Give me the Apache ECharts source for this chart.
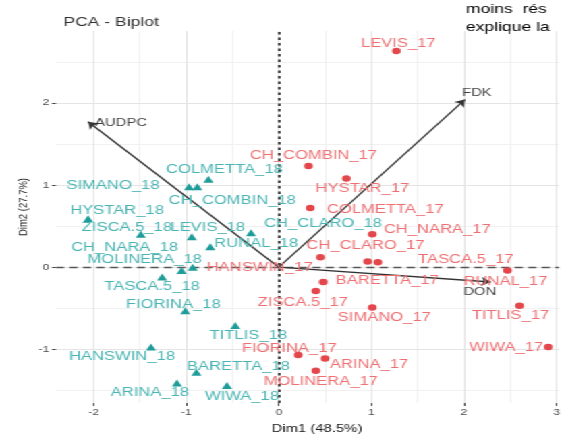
<!DOCTYPE html>
<html><head><meta charset="utf-8">
<script src="https://cdn.jsdelivr.net/npm/echarts@6/dist/echarts.min.js"></script>
<style>
html,body{margin:0;padding:0;background:#fff;overflow:hidden;}
#wrap{width:564px;height:439px;overflow:hidden;position:relative;}
#c{width:418px;height:439px;transform:scaleX(1.349282);transform-origin:0 0;}
</style></head>
<body><div id="wrap"><div id="c"></div></div>
<script>
const SX = 564 / 418;
const genotypes = ['LEVIS','CH_COMBIN','HYSTAR','COLMETTA','CH_NARA','CH_CLARO','TASCA.5','HANSWIN','BARETTA','RUNAL','ZISCA.5','SIMANO','TITLIS','WIWA','FIORINA','ARINA','MOLINERA'];
const dim1_17 = [1.27, 0.32, 0.73, 0.34, 1.01, 0.45, 1.07, 0.96, 0.48, 2.47, 0.40, 1.01, 2.60, 2.91, 0.21, 0.50, 0.40];
const dim2_17 = [2.63, 1.23, 1.08, 0.72, 0.40, 0.12, 0.06, 0.07, -0.18, -0.04, -0.29, -0.49, -0.47, -0.97, -1.07, -1.11, -1.26];
const dim1_18 = [-0.94, -0.88, -2.06, -0.76, -1.05, -0.30, -1.26, -1.38, -0.89, -0.74, -1.49, -0.97, -0.47, -0.56, -1.01, -1.10, -0.93];
const dim2_18 = [0.37, 0.98, 0.59, 1.07, -0.04, 0.42, -0.12, -0.97, -1.28, 0.25, 0.40, 0.98, -0.71, -1.44, -0.53, -1.41, 0.00];
const variables = ['AUDPC','FDK','DON'];
const varDim1 = [-2.06, 2.01, 2.29];
const varDim2 = [1.77, 2.04, -0.18];
const xTicks = [-2, -1, 0, 1, 2, 3];
const yTicks = [-1, 0, 1, 2];

// label offsets (screen px, in the stretched picture)
const off17 = [[2,-8],[5,-12],[16,9],[75,1],[65,-6],[45,-13],[88,-4],[-108,5],[64,-2],[-2,10],[-13,11],[12,9],[-9,9],[-42,0],[-9,-8],[44,5],[5,10]];
const off18 = [[16,-10],[35,13],[29,-9],[16,-11],[-57,-24],[72,-10],[-10,9],[-29,9],[42,-7],[46,-4],[-14,-8],[-76,-2],[13,9],[15,10],[-12,-7],[-27,9],[-48,-9]];
const offVar = [[33,0],[12,-8],[-11,9]];

const XMIN = (56 - 281) / 93.5, XMAX = (564 - 281) / 93.5;
const YMIN = (268 - 406) / 83.5, YMAX = (268 - 28) / 83.5;

function mids(a){ const r=[]; for(let i=0;i<a.length;i++){ r.push(a[i]-0.5); } r.push(a[a.length-1]+0.5); return r; }
const minorX = mids(xTicks).filter(v=>v>XMIN && v<XMAX);
const minorY = mids(yTicks).filter(v=>v>YMIN && v<YMAX);

const gridMajor = [], gridMinor = [];
xTicks.forEach(v=>gridMajor.push({coords:[[v,YMIN],[v,YMAX]]}));
yTicks.forEach(v=>gridMajor.push({coords:[[XMIN,v],[XMAX,v]]}));
minorX.forEach(v=>gridMinor.push({coords:[[v,YMIN],[v,YMAX]]}));
minorY.forEach(v=>gridMinor.push({coords:[[XMIN,v],[XMAX,v]]}));

const FONT = 'Arial, "Liberation Sans", sans-serif';
function pts(xs, ys, names, suffix, offs){
  return xs.map((x,i)=>({name:names[i]+suffix, value:[x, ys[i]], label:{offset:[offs[i][0]/SX, offs[i][1]+1]}}));
}

const chart = echarts.init(document.getElementById('c'), null, {renderer:'canvas'});
chart.setOption({
  animation:false,
  backgroundColor:'#ffffff',
  title:{text:'PCA - Biplot', left:42, top:11, textStyle:{fontSize:13, fontWeight:'normal', color:'#333333', fontFamily:FONT}},
  grid:{left:56/SX, right:0, top:31, bottom:30, containLabel:false},
  xAxis:{type:'value', min:XMIN, max:XMAX,
    axisLine:{show:false, onZero:false}, splitLine:{show:false},
    axisTick:{show:true, length:3, customValues:xTicks, lineStyle:{color:'#444'}},
    axisLabel:{customValues:xTicks, fontSize:9, color:'#4d4d4d', margin:5, fontFamily:FONT},
    name:'Dim1 (48.5%)', nameLocation:'middle', nameGap:20,
    nameTextStyle:{fontSize:11, color:'#1a1a1a', fontFamily:FONT, padding:[0,0,0,14]}},
  yAxis:{type:'value', min:YMIN, max:YMAX,
    axisLine:{show:false, onZero:false}, splitLine:{show:false},
    axisTick:{show:true, length:3, customValues:yTicks, lineStyle:{color:'#444'}},
    axisLabel:{customValues:yTicks, fontSize:9, color:'#4d4d4d', margin:5, fontFamily:FONT}},
  graphic:[
    {type:'text', x:466/SX, y:9, style:{text:'moins  rés', font:'13px '+FONT, fill:'#000', verticalAlign:'middle'}},
    {type:'text', x:466/SX, y:27, style:{text:'explique la', font:'13px '+FONT, fill:'#000', verticalAlign:'middle'}},
    {type:'text', x:23/SX, y:207, rotation:Math.PI/2,
      style:{text:'Dim2 (27.7%)', font:'9.5px '+FONT, fill:'#1a1a1a', align:'center', verticalAlign:'middle'}}
  ],
  series:[
    {type:'lines', coordinateSystem:'cartesian2d', silent:true, z:0, data:gridMinor, lineStyle:{color:'#f1f1f1', width:1, opacity:1}},
    {type:'lines', coordinateSystem:'cartesian2d', silent:true, z:0, data:gridMajor, lineStyle:{color:'#e4e4e4', width:1, opacity:1}},
    {type:'lines', coordinateSystem:'cartesian2d', silent:true, z:1,
      data:[{coords:[[0,YMIN],[0,YMAX]]}], lineStyle:{color:'#222', width:1.7, type:[2.5,3], opacity:1}},
    {type:'lines', coordinateSystem:'cartesian2d', silent:true, z:1,
      data:[{coords:[[XMIN,0],[XMAX,0]]}], lineStyle:{color:'#555', width:1.4, type:[6,4], opacity:1}},
    {type:'lines', coordinateSystem:'cartesian2d', silent:true, z:3,
      symbol:['none','arrow'], symbolSize:[6,7],
      data:variables.map((v,i)=>({coords:[[0,0],[varDim1[i],varDim2[i]]]})),
      lineStyle:{color:'#333', width:1.3, opacity:1}},
    {type:'scatter', z:4, symbolSize:0, silent:true,
      data:pts(varDim1, varDim2, variables, '', offVar),
      label:{show:true, position:'inside', formatter:'{b}', fontSize:11, color:'#111', fontFamily:FONT}},
    {type:'scatter', z:5, symbol:'circle', symbolSize:6.5,
      itemStyle:{color:'#E3474B', opacity:1},
      data:pts(dim1_17, dim2_17, genotypes, '_17', off17),
      label:{show:true, position:'inside', formatter:'{b}', fontSize:12.3, color:'#EE7073', fontFamily:FONT}},
    {type:'scatter', z:5, symbol:'triangle', symbolSize:[7.5,7],
      itemStyle:{color:'#1E9C99', opacity:1},
      data:pts(dim1_18, dim2_18, genotypes, '_18', off18),
      label:{show:true, position:'inside', formatter:'{b}', fontSize:12.3, color:'#4AB5B4', fontFamily:FONT}}
  ]
});
</script>
</body></html>
